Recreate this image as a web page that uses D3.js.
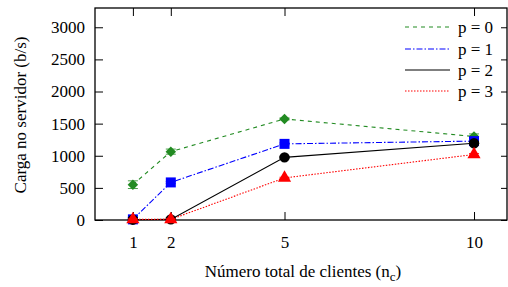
<!DOCTYPE html>
<html><head><meta charset="utf-8">
<script src="https://cdn.jsdelivr.net/npm/d3@7"></script>
<style>body{margin:0;background:#fff}svg{display:block}text{font-family:"Liberation Serif","DejaVu Serif",serif;fill:#000}</style>
</head><body><svg id="c" width="508" height="287"></svg>
<script>
const clients = [1, 2, 5, 10];
const seriesNames = ["p = 0", "p = 1", "p = 2", "p = 3"];
const p0 = [550, 1064, 1573, 1300];
const p1 = [10, 585, 1185, 1228];
const p2 = [5, 10, 975, 1195];
const p3 = [10, 10, 655, 1020];
const p0err = [60, 40, 15, 40];
const p1err = [30, 15, 15, 30];
const p2err = [30, 30, 15, 20];
const p3err = [10, 10, 10, 15];
const yTicks = [0, 500, 1000, 1500, 2000, 2500, 3000];

const FONT = "'Liberation Serif','DejaVu Serif',serif";
const sq = d3.symbolSquare;
const series = [
  {name: seriesNames[0], vals: p0, err: p0err, color: "#228b22", dash: "4,4", sym: sq, size: 55, rot: 45},
  {name: seriesNames[1], vals: p1, err: p1err, color: "#0000ff", dash: "6,2,1.5,2", sym: sq, size: 100, rot: 0},
  {name: seriesNames[2], vals: p2, err: p2err, color: "#000000", dash: null, sym: d3.symbolCircle, size: 85, rot: 0},
  {name: seriesNames[3], vals: p3, err: p3err, color: "#ff0000", dash: "1.5,1.5", sym: d3.symbolTriangle, size: 75, rot: 0}
];

const L = 95, R = 507, T = 8, B = 220;
const svg = d3.select("#c");
const x = d3.scaleLinear().domain([0, 10.87]).range([L, R]);
const y = d3.scaleLinear().domain([0, 3300]).range([B, T]);

const tl = 8;
const gl = svg.append("g").attr("transform", `translate(${L},0)`)
  .call(d3.axisLeft(y).tickValues(yTicks).tickSize(-tl).tickPadding(10).tickFormat(d3.format("d")));
const gr = svg.append("g").attr("transform", `translate(${R},0)`)
  .call(d3.axisRight(y).tickValues(yTicks).tickSize(-6).tickFormat(""));
const gb = svg.append("g").attr("transform", `translate(0,${B})`)
  .call(d3.axisBottom(x).tickValues(clients).tickSize(-tl).tickPadding(16).tickFormat(d3.format("d")));
const gt = svg.append("g").attr("transform", `translate(0,${T})`)
  .call(d3.axisTop(x).tickValues(clients).tickSize(-tl).tickFormat(""));
[gl, gr, gb, gt].forEach(g => {
  g.attr("font-family", FONT).attr("font-size", 17);
  g.select(".domain").remove();
  g.selectAll("line").attr("stroke", "#000").attr("stroke-width", 1);
  g.selectAll("text").attr("font-family", FONT).style("font-size", "17px").attr("fill", "#000");
});
svg.append("rect").attr("x", L).attr("y", T).attr("width", R - L).attr("height", B - T)
  .attr("fill", "none").attr("stroke", "#000").attr("stroke-width", 1.3);

svg.append("text").attr("transform", `translate(26,${(T + B) / 2 + 1}) rotate(-90)`)
  .attr("text-anchor", "middle").style("font-size", "17px").text("Carga no servidor (b/s)");
const xt = svg.append("text").attr("x", 303).attr("y", 277).attr("text-anchor", "middle").style("font-size", "17px");
xt.append("tspan").text("Número total de clientes (n");
xt.append("tspan").attr("dy", 4).style("font-size", "13px").text("c");
xt.append("tspan").attr("dy", -4).text(")");

const line = d3.line().x((d, i) => x(clients[i])).y(d => y(d));
series.forEach(s => {
  svg.append("path").attr("d", line(s.vals)).attr("fill", "none")
    .attr("stroke", s.color).attr("stroke-width", 1.1).attr("stroke-dasharray", s.dash);
});
series.forEach(s => {
  const g = svg.append("g");
  s.vals.forEach((v, i) => {
    const cx = x(clients[i]);
    const hi = y(v + s.err[i]), lo = y(Math.max(0, v - s.err[i]));
    g.append("line").attr("x1", cx).attr("x2", cx).attr("y1", hi).attr("y2", lo)
      .attr("stroke", s.color).attr("stroke-width", 1).attr("opacity", 0.8);
    [hi, lo].forEach(yy => g.append("line").attr("x1", cx - 5).attr("x2", cx + 5).attr("y1", yy).attr("y2", yy)
      .attr("stroke", s.color).attr("stroke-width", 1).attr("opacity", 0.8));
    g.append("path").attr("d", d3.symbol().type(s.sym).size(s.size)())
      .attr("transform", `translate(${cx},${y(v)}) rotate(${s.rot})`).attr("fill", s.color);
  });
});

const ly = [27, 49, 70, 91];
series.forEach((s, i) => {
  svg.append("line").attr("x1", 405).attr("x2", 450).attr("y1", ly[i]).attr("y2", ly[i])
    .attr("stroke", s.color).attr("stroke-width", 1.1).attr("stroke-dasharray", s.dash);
  svg.append("text").attr("x", 458).attr("y", ly[i] + 6).style("font-size", "17px").text(s.name);
});
</script></body></html>
